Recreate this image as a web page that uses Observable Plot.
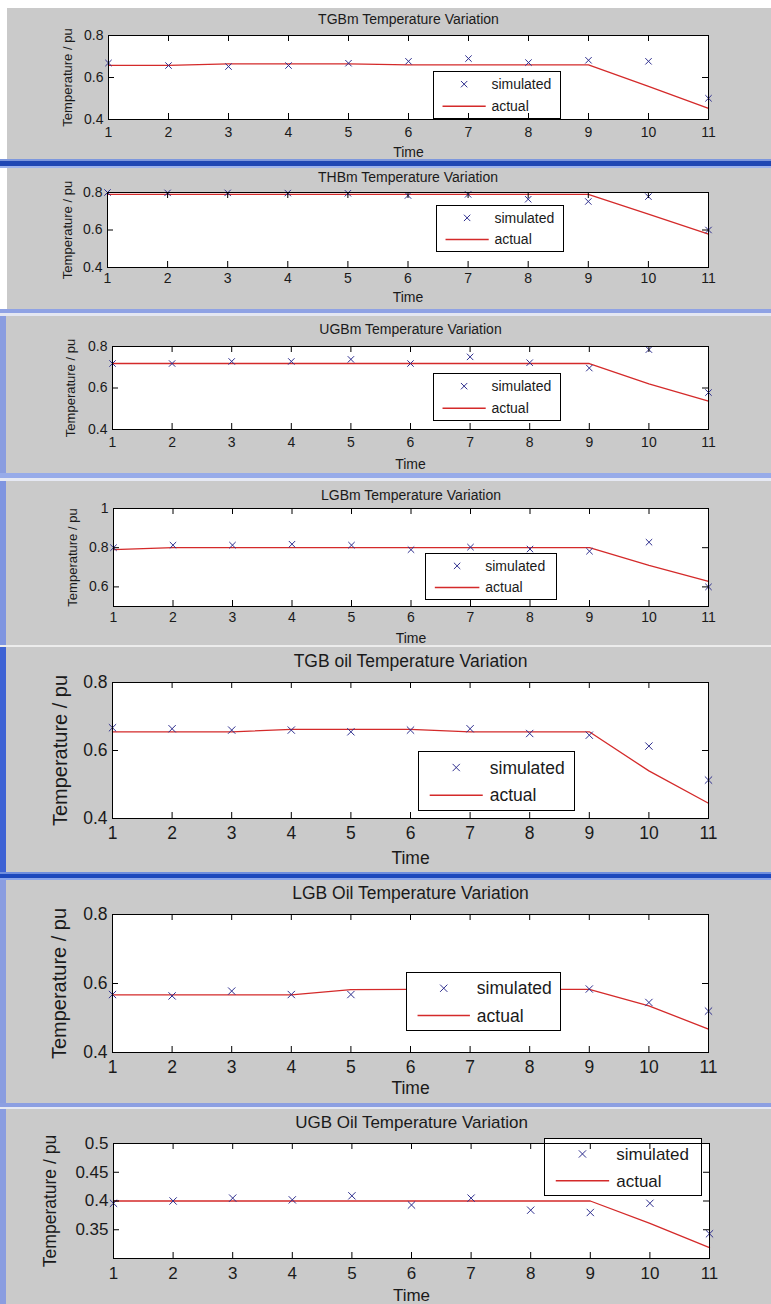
<!DOCTYPE html>
<html><head><meta charset="utf-8">
<script src="https://cdn.jsdelivr.net/npm/d3@7"></script>
<script src="https://cdn.jsdelivr.net/npm/@observablehq/plot@0.6"></script>
<style>
body{margin:0;background:#fff;}
#root{position:relative;width:771px;height:1304px;overflow:hidden;background:#fff;font-family:"Liberation Sans",Arial,sans-serif;}
.band{position:absolute;left:0;width:771px;}
.panel{position:absolute;left:0;width:771px;background:#cacaca;}
.panel svg{position:absolute;left:0;top:0;}
.strip{position:absolute;left:0;width:6px;}
</style></head><body><div id="root"></div>
<script>
// ---------- data ----------
const time = [1, 2, 3, 4, 5, 6, 7, 8, 9, 10, 11];
const xTicks = [1, 2, 3, 4, 5, 6, 7, 8, 9, 10, 11];
const seriesNames = ["simulated", "actual"];
const xLabel = "Time";
const yLabel = "Temperature / pu";

const titles = [
  "TGBm Temperature Variation",
  "THBm Temperature Variation",
  "UGBm Temperature Variation",
  "LGBm Temperature Variation",
  "TGB oil Temperature Variation",
  "LGB Oil Temperature Variation",
  "UGB Oil Temperature Variation"
];

const tgbmSimulated = [0.669, 0.657, 0.652, 0.657, 0.668, 0.677, 0.690, 0.671, 0.682, 0.677, 0.501];
const tgbmActual    = [0.658, 0.658, 0.665, 0.665, 0.665, 0.660, 0.660, 0.660, 0.660, 0.558, 0.453];

const thbmSimulated = [0.800, 0.798, 0.798, 0.797, 0.796, 0.784, 0.790, 0.764, 0.752, 0.778, 0.600];
const thbmActual    = [0.790, 0.790, 0.790, 0.790, 0.790, 0.790, 0.790, 0.790, 0.790, 0.685, 0.578];

const ugbmSimulated = [0.718, 0.718, 0.728, 0.728, 0.738, 0.718, 0.750, 0.722, 0.696, 0.785, 0.578];
const ugbmActual    = [0.718, 0.718, 0.718, 0.718, 0.718, 0.718, 0.718, 0.718, 0.718, 0.620, 0.537];

const lgbmSimulated = [0.800, 0.813, 0.813, 0.818, 0.813, 0.790, 0.803, 0.793, 0.782, 0.828, 0.600];
const lgbmActual    = [0.790, 0.800, 0.800, 0.800, 0.800, 0.800, 0.800, 0.800, 0.800, 0.710, 0.628];

const tgbOilSimulated = [0.667, 0.664, 0.660, 0.660, 0.655, 0.660, 0.664, 0.650, 0.645, 0.613, 0.513];
const tgbOilActual    = [0.655, 0.655, 0.655, 0.662, 0.662, 0.662, 0.655, 0.655, 0.655, 0.540, 0.445];

const lgbOilSimulated = [0.568, 0.564, 0.578, 0.568, 0.568, 0.580, 0.578, 0.582, 0.584, 0.545, 0.520];
const lgbOilActual    = [0.567, 0.567, 0.567, 0.567, 0.582, 0.583, 0.583, 0.583, 0.583, 0.535, 0.468];

const ugbOilSimulated = [0.396, 0.400, 0.405, 0.402, 0.409, 0.393, 0.405, 0.384, 0.380, 0.396, 0.343];
const ugbOilActual    = [0.400, 0.400, 0.400, 0.400, 0.400, 0.400, 0.400, 0.400, 0.400, 0.361, 0.319];

const yDomains = [[0.4, 0.8], [0.4, 0.8], [0.4, 0.8], [0.5, 1], [0.4, 0.8], [0.4, 0.8], [0.3, 0.5]];
const yTicksList = [
  [0.4, 0.6, 0.8], [0.4, 0.6, 0.8], [0.4, 0.6, 0.8], [0.6, 0.8, 1],
  [0.4, 0.6, 0.8], [0.4, 0.6, 0.8], [0.35, 0.4, 0.45, 0.5]
];
const simulatedList = [tgbmSimulated, thbmSimulated, ugbmSimulated, lgbmSimulated, tgbOilSimulated, lgbOilSimulated, ugbOilSimulated];
const actualList = [tgbmActual, thbmActual, ugbmActual, lgbmActual, tgbOilActual, lgbOilActual, ugbOilActual];

// ---------- layout (pixels, styles) ----------
const layout = [
  {top: 8,    bottom: 159,  L: 108, R: 708, T: 35,   B: 119,  titleY: 19,   tickY: 132,  timeY: 152,  ylabX: 67, fs: 14,   yfs: 13,   ms: 3.0, legend: [433, 71, 560, 118],    strip: "#ffffff"},
  {top: 168,  bottom: 309,  L: 107, R: 708, T: 192,  B: 267,  titleY: 177,  tickY: 278,  timeY: 297,  ylabX: 67, fs: 14,   yfs: 13,   ms: 3.0, legend: [436, 205, 563, 251],   strip: "#ffffff"},
  {top: 316,  bottom: 473,  L: 112, R: 708, T: 346,  B: 429,  titleY: 329,  tickY: 442,  timeY: 464,  ylabX: 70, fs: 14,   yfs: 13,   ms: 3.0, legend: [433, 373, 560, 420],   strip: "#8a9de0"},
  {top: 481,  bottom: 645,  L: 113, R: 708, T: 508,  B: 606,  titleY: 495,  tickY: 617,  timeY: 638,  ylabX: 72, fs: 14,   yfs: 13,   ms: 3.0, legend: [425, 553, 556, 599],   strip: "#7f95e0"},
  {top: 647,  bottom: 872,  L: 112, R: 708, T: 682,  B: 818,  titleY: 661,  tickY: 832,  timeY: 858,  ylabX: 60, fs: 17.5, yfs: 20,   ms: 3.4, legend: [418, 751, 574, 810],   strip: "#3d62d4"},
  {top: 880,  bottom: 1103, L: 112, R: 708, T: 914,  B: 1052, titleY: 893,  tickY: 1066, timeY: 1088, ylabX: 59, fs: 17.5, yfs: 20,   ms: 3.4, legend: [406, 972, 560, 1030],  strip: "#8a9de0"},
  {top: 1109, bottom: 1304, L: 113, R: 709, T: 1143, B: 1258, titleY: 1122, tickY: 1273, timeY: 1295, ylabX: 50, fs: 17,   yfs: 17.5, ms: 3.4, legend: [544, 1138, 701, 1195], strip: "#8a9de0"}
];
const bands = [
  {top: 0, h: 8, color: "#ffffff"},
  {top: 159, h: 2, color: "#7d97dd"}, {top: 161, h: 5, color: "#1f47b4"}, {top: 166, h: 2, color: "#9db3ec"},
  {top: 309, h: 4, color: "#8fa2e4"}, {top: 313, h: 3, color: "#e4e7f2"},
  {top: 473, h: 5, color: "#97abe9"}, {top: 478, h: 3, color: "#e6e9f4"},
  {top: 645, h: 2, color: "#ececec"},
  {top: 872, h: 2, color: "#6f8ede"}, {top: 874, h: 4, color: "#1c48bd"}, {top: 878, h: 2, color: "#8aa5ea"},
  {top: 1103, h: 4, color: "#8c9fe2"}, {top: 1107, h: 2, color: "#e6e9f4"}
];
const simColor = "#2e2e8e";
const actColor = "#d42a2a";
const textColor = "#1a1a1a";
const fontFamily = '"Liberation Sans", Arial, sans-serif';

const root = document.getElementById("root");
for (const b of bands) {
  const d = document.createElement("div");
  d.className = "band";
  d.style.top = b.top + "px"; d.style.height = b.h + "px"; d.style.background = b.color;
  root.appendChild(d);
}

function legendMark(p) {
  return () => {
    const g = d3.create("svg:g");
    const x0 = p.legend[0], y0 = p.legend[1] - p.top;
    const w = p.legend[2] - p.legend[0], h = p.legend[3] - p.legend[1];
    g.append("rect").attr("x", x0 + 0.5).attr("y", y0 + 0.5).attr("width", w).attr("height", h)
      .attr("fill", "white").attr("stroke", "black").attr("stroke-width", 1);
    const r1 = y0 + h * 0.28, r2 = y0 + h * 0.75;
    const size = Math.PI * p.ms * p.ms;
    g.append("path").attr("d", d3.symbol(d3.symbolTimes, size)())
      .attr("transform", `translate(${x0 + w * 0.245},${r1})`)
      .attr("fill", "none").attr("stroke", simColor).attr("stroke-width", 1);
    g.append("line").attr("x1", x0 + w * 0.075).attr("x2", x0 + w * 0.415)
      .attr("y1", r2).attr("y2", r2).attr("stroke", actColor).attr("stroke-width", 1.3);
    const tx = x0 + w * 0.46;
    for (const [k, ry] of [[0, r1], [1, r2]]) {
      g.append("text").attr("x", tx).attr("y", ry).attr("dy", "0.35em").attr("font-size", p.fs)
        .attr("text-anchor", "start").attr("fill", textColor).attr("font-family", fontFamily)
        .text(seriesNames[k]);
    }
    return g.node();
  };
}

layout.forEach((p, i) => {
  const panel = document.createElement("div");
  panel.className = "panel";
  panel.style.top = p.top + "px";
  panel.style.height = (p.bottom - p.top) + "px";
  root.appendChild(panel);
  const strip = document.createElement("div");
  strip.className = "strip";
  strip.style.top = "0px"; strip.style.height = (p.bottom - p.top) + "px"; strip.style.background = p.strip;
  if (p.strip === "#ffffff") strip.style.width = "7px";
  panel.appendChild(strip);

  const H = p.bottom - p.top;
  const frameH = p.B - p.T;
  const frameW = p.R - p.L;
  const rows = time.map((t, k) => ({t, sim: simulatedList[i][k], act: actualList[i][k]}));
  const tickLen = 6;

  const chart = Plot.plot({
    width: 771,
    height: H,
    marginLeft: p.L,
    marginRight: 771 - p.R,
    marginTop: p.T - p.top,
    marginBottom: p.bottom - p.B,
    style: {background: "transparent", fontFamily, color: textColor, overflow: "visible"},
    x: {domain: [1, 11]},
    y: {domain: yDomains[i]},
    marks: [
      Plot.frame({fill: "white", stroke: null}),
      Plot.line(rows, {x: "t", y: "act", stroke: actColor, strokeWidth: 1.3}),
      Plot.dot(rows, {x: "t", y: "sim", symbol: "times", r: p.ms, stroke: simColor, strokeWidth: 1}),
      legendMark(p),
      Plot.frame({stroke: "black", strokeWidth: 1}),
      Plot.tickX(xTicks, {x: d => d, stroke: "black", insetTop: frameH - tickLen}),
      Plot.tickX(xTicks, {x: d => d, stroke: "black", insetBottom: frameH - tickLen}),
      Plot.tickY(yTicksList[i], {y: d => d, stroke: "black", insetRight: frameW - tickLen}),
      Plot.tickY(yTicksList[i], {y: d => d, stroke: "black", insetLeft: frameW - tickLen}),
      Plot.axisX(xTicks, {anchor: "bottom", tickSize: 0, tickPadding: p.tickY - p.B - 0.36 * p.fs, fontSize: p.fs, label: null, fill: textColor}),
      Plot.axisY(yTicksList[i], {anchor: "left", tickSize: 0, tickPadding: 5, fontSize: p.fs, label: null, tickFormat: d => String(d), fill: textColor}),
      Plot.text([titles[i]], {frameAnchor: "top", text: d => d, dy: p.titleY - p.T, fontSize: p.fs, fill: textColor, lineAnchor: "middle"}),
      Plot.text([xLabel], {frameAnchor: "bottom", text: d => d, dy: p.timeY - p.B, fontSize: p.fs, fill: textColor, lineAnchor: "middle"}),
      Plot.text([yLabel], {frameAnchor: "left", textAnchor: "middle", text: d => d, dx: p.ylabX - p.L, rotate: -90, fontSize: p.yfs, fill: textColor, lineAnchor: "middle", letterSpacing: "0.3px"})
    ]
  });
  panel.appendChild(chart);
});
</script>
</body></html>
